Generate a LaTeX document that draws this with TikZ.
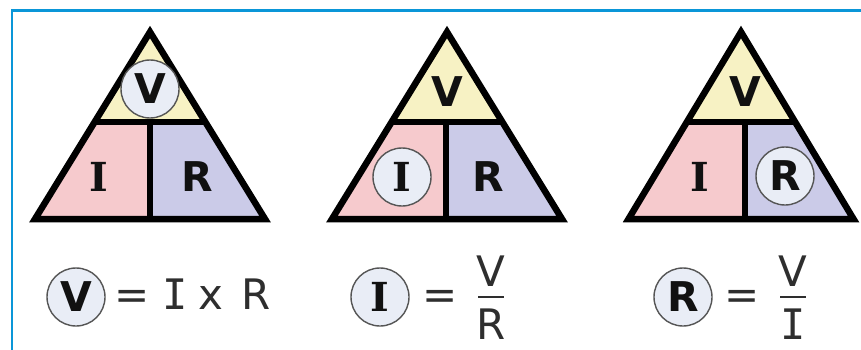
\documentclass[tikz,border=0pt]{standalone}
\usepackage{fontspec}
\setmainfont{DejaVu Sans}
\newfontfamily\monofnt{DejaVu Sans Mono}
\newfontfamily\seriffnt{DejaVu Serif}
\usetikzlibrary{calc}
\definecolor{frameblue}{HTML}{0A96D8}
\definecolor{topyel}{HTML}{F7F2C4}
\definecolor{lpink}{HTML}{F6CACD}
\definecolor{rlav}{HTML}{CBCBE8}
\definecolor{circfill}{HTML}{E9EDF6}
\definecolor{circline}{HTML}{555555}
\definecolor{letterc}{HTML}{111111}
\definecolor{eqc}{HTML}{2E2E2E}
\tikzset{
  bigbold/.style={font=\fontsize{41}{43}\selectfont\bfseries, text=letterc, inner sep=0pt},
  bigboldI/.style={font=\fontsize{40}{42}\selectfont\seriffnt\bfseries, text=letterc, inner sep=0pt},
  hl/.style={circle, draw=circline, fill=circfill, line width=1.4pt, minimum size=58pt, inner sep=0pt},
  eqtxt/.style={font=\fontsize{42}{44}\selectfont, text=eqc, inner sep=0pt, anchor=base},
  eqI/.style={font=\fontsize{42}{44}\selectfont\monofnt, text=eqc, inner sep=0pt, anchor=base},
  tri/.style={line width=6.5pt, draw=black, line join=miter},
  fracbar/.style={draw=eqc, line width=2.5pt}
}
\begin{document}
\begin{tikzpicture}[x=1pt,y=-1pt]
\useasboundingbox (0,0) rectangle (861,350);
\fill[white] (0,0) rectangle (861,350);
\draw[frameblue, line width=2.6pt] (12,352) -- (12,10.5) -- (863,10.5);

\foreach \n/\cx/\hw/\vx in {1/150/115/150, 2/447/115/446, 3/741/112.5/745}{
  \coordinate (top\n) at (\cx,32);
  \coordinate (bl\n) at (\cx-\hw,219);
  \coordinate (br\n) at (\cx+\hw,219);
  \coordinate (ml\n) at ($(top\n)!0.481!(bl\n)$);
  \coordinate (mr\n) at ($(top\n)!0.481!(br\n)$);
  \coordinate (mm\n) at (\vx,122);
  \coordinate (bm\n) at (\vx,219);
  \fill[topyel] (top\n) -- (ml\n) -- (mr\n) -- cycle;
  \fill[lpink] (ml\n) -- (mm\n) -- (bm\n) -- (bl\n) -- cycle;
  \fill[rlav] (mm\n) -- (mr\n) -- (br\n) -- (bm\n) -- cycle;
  \draw[tri] (top\n) -- (bl\n) -- (br\n) -- cycle;
  \draw[tri] (ml\n) -- (mr\n);
  \draw[tri] (mm\n) -- (bm\n);
}

% triangle 1
\node[hl, bigbold] (t1V) at (150,89) {V};
\node[bigboldI] (t1I) at (99,177) {I};
\node[bigbold] (t1R) at (197,177) {R};
% triangle 2
\node[bigbold] (t2V) at (447,92) {V};
\node[hl, bigboldI] (t2I) at (402,177) {I};
\node[bigbold] (t2R) at (488,177) {R};
% triangle 3
\node[bigbold] (t3V) at (745,92) {V};
\node[bigboldI] (t3I) at (700,177) {I};
\node[hl, bigbold] (t3R) at (785,176) {R};

% equation 1
\node[hl, bigbold] (e1V) at (76,297) {V};
\node[eqtxt] (e1eq) at (132,309) {=};
\node[eqI] (e1I) at (175,309) {I};
\node[eqtxt] (e1x) at (211,309) {x};
\node[eqtxt] (e1R) at (256,309) {R};
% equation 2
\node[hl, bigboldI] (e2I) at (380,297) {I};
\node[eqtxt] (e2eq) at (440,309) {=};
\node[eqtxt] (e2V) at (491,286) {V};
\node[eqtxt] (e2R) at (491,339) {R};
\coordinate (b2l) at (478,297);
\coordinate (b2r) at (504,297);
\draw[fracbar] (b2l) -- (b2r);
% equation 3
\node[hl, bigbold] (e3R) at (683,297) {R};
\node[eqtxt] (e3eq) at (742,309) {=};
\node[eqtxt] (e3V) at (793,286) {V};
\node[eqI] (e3I) at (793,339) {I};
\coordinate (b3l) at (780,297);
\coordinate (b3r) at (806,297);
\draw[fracbar] (b3l) -- (b3r);
\end{tikzpicture}
\end{document}
